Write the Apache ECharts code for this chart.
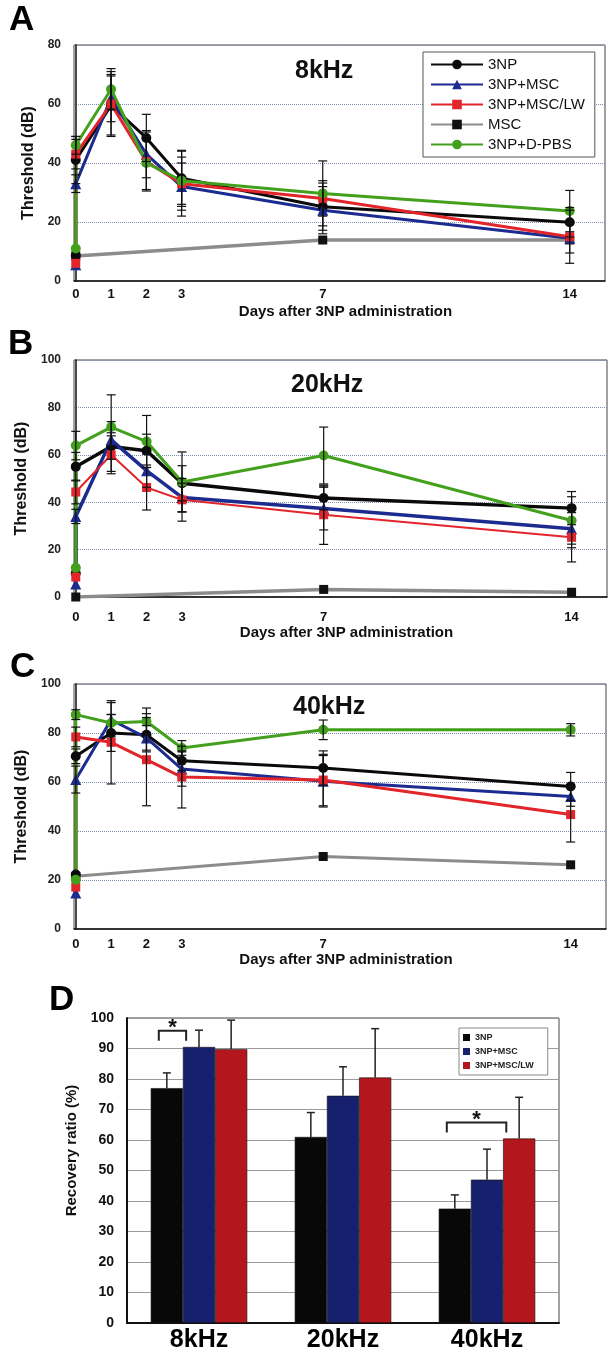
<!DOCTYPE html>
<html>
<head>
<meta charset="utf-8">
<script src="https://cdn.jsdelivr.net/npm/echarts@6/dist/echarts.min.js"></script>
<style>
  html, body { margin: 0; padding: 0; background: #fff; }
  #main { width: 612px; height: 1354px; }
</style>
</head>
<body>
<div id="main"></div>
<script>
  // day 0 appears twice: before and right after 3NP
  const days = [0, 0, 1, 2, 3, 7, 14]
  const mscDays = [0, 7, 14]
  const dayTicks = [0, 1, 2, 3, 7, 14]
  const groupNames = ['3NP', '3NP+MSC', '3NP+MSC/LW', 'MSC', '3NP+D-PBS']

  // A: 8kHz threshold (dB) and SD
  const a3np = [8.6, 41, 59.5, 48.5, 34.8, 25.2, 19.9]
  const a3npErr = [0, 8, 10, 8, 9.5, 8, 5]
  const aMsc3np = [5.5, 33, 62, 43, 32, 24, 14.5]
  const aMsc3npErr = [0, 3, 8, 8, 10, 8, 5]
  const aLw = [6, 43, 60, 40.5, 33, 28, 15]
  const aLwErr = [0, 5, 11, 10, 7, 6, 9]
  const aMsc = [8.5, 13.9, 13.9]
  const aPbs = [11, 46, 65, 40, 34, 29.7, 23.7]
  const aPbsErr = [0, 3, 7, 9, 10, 11, 7]

  // B: 20kHz
  const b3np = [10, 55, 63.5, 61.7, 48, 41.8, 37.5]
  const b3npErr = [0, 6, 10.5, 7, 7.4, 5, 7]
  const bMsc3np = [5.5, 34, 66.3, 53.3, 42, 37.3, 28.8]
  const bMsc3npErr = [0, 3, 3, 7, 6, 9, 8]
  const bLw = [8.4, 44.3, 60, 46.2, 41, 34.7, 25.2]
  const bLwErr = [0, 5, 8, 9.5, 9, 12.5, 10.4]
  const bMsc = [0, 3.2, 2]
  const bPbs = [12.3, 63.9, 71.7, 65.6, 48.5, 59.7, 32.3]
  const bPbsErr = [0, 6, 13.6, 11, 12.7, 12, 10]

  // C: 40kHz
  const c3np = [22.2, 70.5, 80, 79.3, 68.7, 65.7, 58.2]
  const c3npErr = [0, 3, 7.5, 7, 4, 7, 5.7]
  const cMsc3np = [14.7, 61, 85.4, 78, 65.3, 60.3, 54.1]
  const cMsc3npErr = [0, 5.5, 7, 5, 7, 10.5, 4]
  const cLw = [17.1, 78.4, 76.2, 69.1, 62, 60.8, 46.7]
  const cLwErr = [0, 4, 17, 18.8, 12.6, 10.5, 11.2]
  const cMsc = [21.5, 29.6, 26.2]
  const cPbs = [20.1, 87.5, 84.1, 84.7, 73.9, 81.3, 81.3]
  const cPbsErr = [0, 2, 3.5, 5.5, 3, 4, 2.5]

  // D: recovery ratio (%)
  const dCats = ['8kHz', '20kHz', '40kHz']
  const dNames = ['3NP', '3NP+MSC', '3NP+MSC/LW']
  const d3np = [77, 61, 37.5]
  const d3npErr = [5, 8, 4.5]
  const dMsc = [90.5, 74.5, 47]
  const dMscErr = [5.5, 9.5, 10]
  const dLw = [89.8, 80.5, 60.5]
  const dLwErr = [9.5, 16, 13.5]
  // [category, from group, to group, bracket level]
  const dSig = [[0, 0, 1, 95.8], [2, 0, 2, 65.7]]

  const ff = 'Liberation Sans, Arial, sans-serif'
  const colors = { '3NP': '#0a0a0a', '3NP+MSC': '#1c2b8f', '3NP+MSC/LW': '#e2252b', 'MSC': '#8c8c8c', '3NP+D-PBS': '#43a01d' }
  const symbols = { '3NP': 'circle', '3NP+MSC': 'triangle', '3NP+MSC/LW': 'rect', 'MSC': 'rect', '3NP+D-PBS': 'circle' }
  const symSizes = { '3NP': 10, '3NP+MSC': 11, '3NP+MSC/LW': 9, 'MSC': 9, '3NP+D-PBS': 10 }
  const barColors = ['#080808', '#17206c', '#b3161c']

  const grids = [
    { left: 74, top: 45, width: 531, height: 236 },
    { left: 74, top: 360, width: 533, height: 237 },
    { left: 74, top: 684, width: 532, height: 245 },
    { left: 127, top: 1018, width: 432, height: 305 }
  ]

  function lineSeries (idx, name, xs, ys, width) {
    return {
      name,
      type: 'line',
      xAxisIndex: idx,
      yAxisIndex: idx,
      data: xs.map((x, i) => [x, ys[i]]),
      symbol: symbols[name],
      symbolSize: symSizes[name],
      lineStyle: { color: colors[name], width: width },
      itemStyle: { color: name === 'MSC' ? '#111' : colors[name], borderWidth: 0 },
      animation: false,
      z: 3
    }
  }

  function errorSeries (idx, groups) {
    const data = []
    groups.forEach(([vals, errs]) => {
      vals.forEach((v, i) => {
        if (errs[i] > 0) data.push([days[i], v - errs[i], v + errs[i]])
      })
    })
    return {
      type: 'custom',
      xAxisIndex: idx,
      yAxisIndex: idx,
      silent: true,
      z: 4,
      data,
      encode: { x: 0, y: [1, 2] },
      renderItem (params, api) {
        const lo = api.coord([api.value(0), api.value(1)])
        const hi = api.coord([api.value(0), api.value(2)])
        const w = 4.5
        const st = { stroke: '#111', lineWidth: 1.2 }
        return {
          type: 'group',
          children: [
            { type: 'line', shape: { x1: lo[0], y1: lo[1], x2: hi[0], y2: hi[1] }, style: st },
            { type: 'line', shape: { x1: lo[0] - w, y1: lo[1], x2: lo[0] + w, y2: lo[1] }, style: st },
            { type: 'line', shape: { x1: hi[0] - w, y1: hi[1], x2: hi[0] + w, y2: hi[1] }, style: st }
          ]
        }
      }
    }
  }

  function panelSeries (idx, g3np, gMsc3np, gLw, gMsc, gPbs, widths) {
    return [
      lineSeries(idx, 'MSC', mscDays, gMsc[0], widths[3]),
      lineSeries(idx, '3NP', days, g3np[0], widths[0]),
      lineSeries(idx, '3NP+MSC', days, gMsc3np[0], widths[1]),
      lineSeries(idx, '3NP+MSC/LW', days, gLw[0], widths[2]),
      lineSeries(idx, '3NP+D-PBS', days, gPbs[0], widths[4]),
      errorSeries(idx, [g3np, gMsc3np, gLw, gPbs])
    ]
  }

  function lineXAxis (idx, margin, nameGap) {
    return {
      type: 'value',
      gridIndex: idx,
      min: -0.05,
      max: 15,
      name: 'Days after 3NP administration',
      nameLocation: 'middle',
      nameGap,
      nameTextStyle: { fontSize: 15, fontWeight: 'bold', color: '#111', fontFamily: ff, padding: [0, 0, 0, 12] },
      axisLine: { onZero: false, lineStyle: { color: '#111', width: 1.5 } },
      axisTick: { show: false },
      splitLine: { show: false },
      axisLabel: { customValues: dayTicks, margin, fontSize: 13, fontWeight: 'bold', color: '#111', fontFamily: ff }
    }
  }

  function lineYAxis (idx, max) {
    return {
      type: 'value',
      gridIndex: idx,
      min: 0,
      max,
      interval: 20,
      name: 'Threshold (dB)',
      nameLocation: 'middle',
      nameGap: 35,
      nameTextStyle: { fontSize: 16, fontWeight: 'bold', color: '#111', fontFamily: ff },
      axisLine: { show: true, lineStyle: { color: '#111', width: 1.5 } },
      axisTick: { show: false },
      axisLabel: { margin: 13, fontSize: 12, fontWeight: 'bold', color: '#222', fontFamily: ff },
      splitLine: { lineStyle: { type: 'dotted', color: '#7d8fb0', width: 1 } }
    }
  }

  const barSeries = [d3np, dMsc, dLw].map((vals, i) => ({
    name: dNames[i],
    type: 'bar',
    xAxisIndex: 3,
    yAxisIndex: 3,
    data: vals,
    barGap: '0%',
    barCategoryGap: '33%',
    itemStyle: { color: barColors[i], borderColor: '#111', borderWidth: 0.6 },
    animation: false,
    z: 2
  }))

  // upward error bars over the bars
  const barErrData = []
  ;[[d3np, d3npErr], [dMsc, dMscErr], [dLw, dLwErr]].forEach(([vals, errs], s) => {
    vals.forEach((v, c) => barErrData.push([c, s, v, v + errs[c]]))
  })

  const barErrSeries = {
    type: 'custom',
    xAxisIndex: 3,
    yAxisIndex: 3,
    silent: true,
    z: 3,
    data: barErrData,
    encode: { x: 0, y: 3 },
    renderItem (params, api) {
      const cat = api.value(0)
      const bw = api.size([1, 0])[0] * 0.67 / 3
      const top = api.coord([cat, api.value(2)])
      const hi = api.coord([cat, api.value(3)])
      const x = top[0] + (api.value(1) - 1) * bw
      const st = { stroke: '#222', lineWidth: 1.5 }
      return {
        type: 'group',
        children: [
          { type: 'line', shape: { x1: x, y1: top[1], x2: x, y2: hi[1] }, style: st },
          { type: 'line', shape: { x1: x - 4, y1: hi[1], x2: x + 4, y2: hi[1] }, style: st }
        ]
      }
    }
  }

  // significance brackets with star
  const sigSeries = {
    type: 'custom',
    xAxisIndex: 3,
    yAxisIndex: 3,
    silent: true,
    z: 4,
    data: dSig,
    encode: { x: 0, y: 3 },
    renderItem (params, api) {
      const cat = api.value(0)
      const bw = api.size([1, 0])[0] * 0.67 / 3
      const p = api.coord([cat, api.value(3)])
      const xl = p[0] + (api.value(1) - 1) * bw - 0.25 * bw
      const xr = p[0] + (api.value(2) - 1) * bw - 0.4 * bw
      const y = p[1]
      return {
        type: 'group',
        children: [
          {
            type: 'polyline',
            shape: { points: [[xl, y + 10], [xl, y], [xr, y], [xr, y + 10]] },
            style: { stroke: '#222', lineWidth: 2, fill: null }
          },
          {
            type: 'text',
            x: (xl + xr) / 2,
            y: y - 3,
            style: { text: '*', font: 'bold 22px ' + ff, fill: '#111', align: 'center', verticalAlign: 'middle' }
          }
        ]
      }
    }
  }

  const letterFont = 'bold 35px ' + ff

  const option = {
    backgroundColor: '#fff',
    textStyle: { fontFamily: ff },
    title: [
      { text: '8kHz', left: 290, top: 54 },
      { text: '20kHz', left: 286, top: 368 },
      { text: '40kHz', left: 288, top: 690 }
    ].map(t => Object.assign(t, { textStyle: { fontSize: 25, fontWeight: 'bold', color: '#111', fontFamily: ff } })),
    graphic: [
      { type: 'text', left: 9, top: 3, style: { text: 'A', font: letterFont, fill: '#000' } },
      { type: 'text', left: 8, top: 327, style: { text: 'B', font: letterFont, fill: '#000' } },
      { type: 'text', left: 10, top: 650, style: { text: 'C', font: letterFont, fill: '#000' } },
      { type: 'text', left: 49, top: 983, style: { text: 'D', font: letterFont, fill: '#000' } }
    ],
    legend: [
      {
        left: 423,
        top: 52,
        orient: 'vertical',
        data: groupNames,
        itemWidth: 52,
        itemHeight: 12,
        itemGap: 5,
        padding: [5, 10, 5, 7],
        backgroundColor: '#fff',
        borderColor: '#555',
        borderWidth: 1,
        selectedMode: false,
        textStyle: { fontSize: 15, color: '#111', fontFamily: ff }
      },
      {
        left: 459,
        top: 1028,
        orient: 'vertical',
        data: dNames.map((n, i) => ({ name: n, icon: 'rect', itemStyle: { color: barColors[i], borderWidth: 0 } })),
        itemWidth: 7,
        itemHeight: 7,
        itemGap: 5,
        padding: [5, 14, 5, 4],
        backgroundColor: '#fff',
        borderColor: '#888',
        borderWidth: 1,
        selectedMode: false,
        textStyle: { fontSize: 9, fontWeight: 'bold', color: '#222', fontFamily: ff }
      }
    ],
    grid: grids.map(g => Object.assign({ show: true, borderColor: '#444', borderWidth: 1, containLabel: false }, g)),
    xAxis: [
      lineXAxis(0, 7, 23),
      lineXAxis(1, 14, 25),
      lineXAxis(2, 9, 19),
      {
        type: 'category',
        gridIndex: 3,
        data: dCats,
        axisLine: { lineStyle: { color: '#111', width: 2 } },
        axisTick: { show: false },
        axisLabel: { margin: 5, fontSize: 25, fontWeight: 'bold', color: '#000', fontFamily: ff }
      }
    ],
    yAxis: [
      lineYAxis(0, 80),
      lineYAxis(1, 100),
      lineYAxis(2, 100),
      {
        type: 'value',
        gridIndex: 3,
        min: 0,
        max: 100,
        interval: 10,
        name: 'Recovery ratio (%)',
        nameLocation: 'middle',
        nameGap: 39,
        nameTextStyle: { fontSize: 15, fontWeight: 'bold', color: '#111', fontFamily: ff, padding: [0, 0, 0, 40] },
        axisLine: { show: true, lineStyle: { color: '#111', width: 2 } },
        axisTick: { show: false },
        axisLabel: { margin: 13, fontSize: 14, fontWeight: 'bold', color: '#111', fontFamily: ff },
        splitLine: { lineStyle: { color: '#9a9a9a', width: 1.2 } }
      }
    ],
    series: [].concat(
      panelSeries(0, [a3np, a3npErr], [aMsc3np, aMsc3npErr], [aLw, aLwErr], [aMsc], [aPbs, aPbsErr], [3, 3, 3, 3.5, 3]),
      panelSeries(1, [b3np, b3npErr], [bMsc3np, bMsc3npErr], [bLw, bLwErr], [bMsc], [bPbs, bPbsErr], [3.5, 3.5, 2, 3.5, 3]),
      panelSeries(2, [c3np, c3npErr], [cMsc3np, cMsc3npErr], [cLw, cLwErr], [cMsc], [cPbs, cPbsErr], [3, 3, 3, 3, 3]),
      barSeries,
      [barErrSeries, sigSeries]
    )
  }

  const chart = echarts.init(document.getElementById('main'), null, { renderer: 'canvas' })
  chart.setOption(option)
</script>
</body>
</html>
